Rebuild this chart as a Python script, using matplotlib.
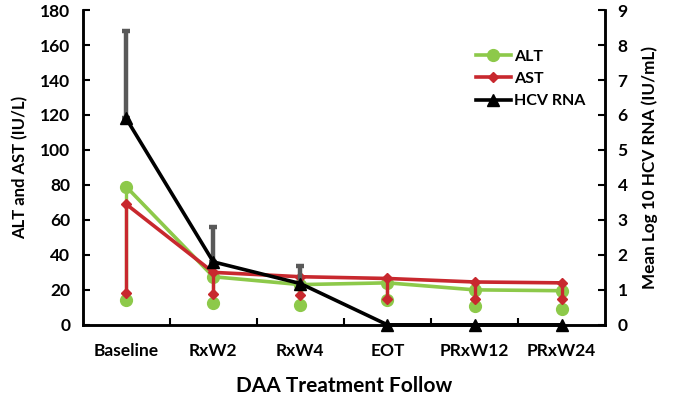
import matplotlib.pyplot as plt

plt.rcParams['font.family'] = ['Lato', 'DejaVu Sans']
plt.rcParams['font.weight'] = 'bold'

visits = ['Baseline', 'RxW2', 'RxW4', 'EOT', 'PRxW12', 'PRxW24']
alt_mean = [79, 27.5, 23, 24, 20, 19.5]
alt_low = [14, 12.5, 11.5, 14, 10.5, 9]
ast_mean = [69, 30, 27.5, 26.5, 24.5, 24]
ast_low = [18, 17.5, 17, 15, 15, 14.5]
hcv_mean = [5.9, 1.8, 1.18, 0, 0, 0]
hcv_up = [8.4, 2.8, 1.68, 0, 0, 0]

green = '#8DC94A'
red = '#C8282E'
grey = '#595959'

fig = plt.figure(figsize=(6.83, 4.03), dpi=100)
ax = fig.add_axes([0.121, 0.194, 0.765, 0.781])
ax2 = ax.twinx()

x = list(range(len(visits)))

# ALT / AST minus-only error bars, marker at the lower end
ax.vlines(x, alt_low, alt_mean, color=green, lw=2.4, zorder=2)
ax.plot(x, alt_low, 'o', color=green, ms=8.5, zorder=2)
ax.vlines(x, ast_low, ast_mean, color=red, lw=2.4, zorder=3)
ax.plot(x, ast_low, 'D', color=red, ms=5.5, zorder=3)

ax.plot(x, alt_mean, '-o', color=green, lw=2.6, ms=8.5, label='ALT', zorder=2)
ax.plot(x, ast_mean, '-D', color=red, lw=2.6, ms=5.5, label='AST', zorder=3)

# HCV RNA with plus-only error bars
err = [[0] * len(x), [u - m for u, m in zip(hcv_up, hcv_mean)]]
ax2.errorbar(x[:3], hcv_mean[:3], yerr=[err[0][:3], err[1][:3]], fmt='none',
             ecolor=grey, elinewidth=3.2, capsize=3, capthick=3.2, zorder=1)
ax2.plot(x, hcv_mean, '-^', color='black', lw=2.6, ms=8, label='HCV RNA',
         clip_on=False, zorder=4)

ax.set_xlim(-0.5, len(visits) - 0.5)
ax.set_ylim(0, 180)
ax2.set_ylim(0, 9)
ax.set_yticks(range(0, 181, 20))
ax2.set_yticks(range(0, 10))
ax.set_xticks(x)
ax.set_xticklabels(visits)
ax.set_xticks([i + 0.5 for i in x[:-1]], minor=True)

for a in (ax, ax2):
    for s in a.spines.values():
        s.set_linewidth(1.8)
    a.spines['top'].set_visible(False)
ax.tick_params(axis='x', which='major', length=0, pad=13, labelsize=12.5)
ax.tick_params(axis='x', which='minor', direction='in', length=5, width=1.5)
ax.tick_params(axis='y', direction='in', length=5, width=1.5, labelsize=12.5, pad=9)
ax2.tick_params(axis='y', direction='in', length=5, width=1.5, labelsize=12.5, pad=9)

ax.set_ylabel('ALT and AST (IU/L)', fontsize=12, fontweight='bold', labelpad=8)
ax2.set_ylabel('Mean Log 10 HCV RNA (IU/mL)', fontsize=12.3, fontweight='bold', labelpad=10)
ax.set_xlabel('DAA Treatment Follow', fontsize=15, fontweight='bold', labelpad=12)

h1, l1 = ax.get_legend_handles_labels()
h2, l2 = ax2.get_legend_handles_labels()
ax2.legend(h1 + h2, l1 + l2, loc='upper right', bbox_to_anchor=(0.99, 0.92),
           frameon=False, fontsize=11.5, handlelength=2.2, handletextpad=0.2,
           labelspacing=0.5)

fig.savefig('out.png', dpi=100)
